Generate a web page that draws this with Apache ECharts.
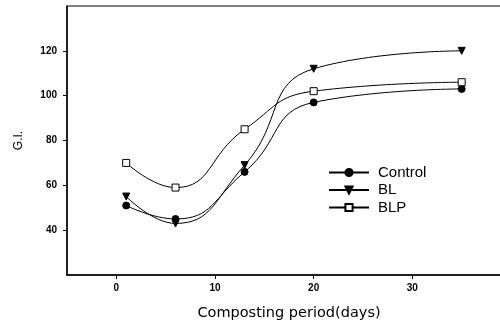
<!DOCTYPE html>
<html><head><meta charset="utf-8">
<script src="https://cdn.jsdelivr.net/npm/echarts@6/dist/echarts.min.js"></script>
<style>html,body{margin:0;padding:0;background:#fff}#c{width:500px;height:324px}</style>
</head><body><div id="c"></div>
<script>
const days = [1, 6, 13, 20, 35];
const controlGI = [51, 45, 66, 97, 103];
const blGI = [55, 43, 69, 112, 120];
const blpGI = [70, 59, 85, 102, 106];
const xTicks = [0, 10, 20, 30];
const yTicks = [40, 60, 80, 100, 120];

const pair = (xs, ys) => xs.map((x, i) => [x, ys[i]]);
const font = 'Liberation Sans, Arial, sans-serif';
const chart = echarts.init(document.getElementById('c'), null, {renderer: 'canvas'});
const mk = (name, data, symbol, fill) => ({
  name, type: 'line', data: pair(days, data), smooth: 0.5,
  symbol, symbolSize: 7, showSymbol: true,
  lineStyle: {color: '#000', width: 1},
  itemStyle: {color: fill, borderColor: '#000', borderWidth: 1},
  emphasis: {disabled: true}
});
chart.setOption({
  animation: false,
  grid: {left: 67, right: -11, top: 6, bottom: 49, show: true, borderColor: '#000', borderWidth: 1,
         outerBoundsMode: 'none', containLabel: false},
  legend: {
    orient: 'vertical', left: 328, top: 165, padding: 0, itemWidth: 40, itemHeight: 9, itemGap: 2.5,
    textStyle: {fontFamily: font, fontSize: 15, color: '#000', padding: [0, 0, 0, 4]},
    data: ['Control', 'BL', 'BLP']
  },
  xAxis: {
    type: 'value', min: -5, max: 40,
    name: 'Composting period(days)', nameLocation: 'middle', nameGap: 31,
    nameTextStyle: {fontFamily: 'DejaVu Sans, sans-serif', fontSize: 14.5, color: '#000'},
    axisLine: {show: true, onZero: false, lineStyle: {color: '#000', width: 1.5}},
    axisTick: {show: true, length: 4, customValues: xTicks, lineStyle: {color: '#000'}},
    axisLabel: {customValues: xTicks, margin: 8, fontFamily: font, fontSize: 10, color: '#000', fontWeight: 'bold'},
    splitLine: {show: false}
  },
  yAxis: {
    type: 'value', min: 20, max: 140,
    name: 'G.I.', nameLocation: 'middle', nameGap: 42, nameRotate: 90,
    nameTextStyle: {fontFamily: font, fontSize: 12, color: '#000'},
    axisLine: {show: true, onZero: false, lineStyle: {color: '#000', width: 1.5}},
    axisTick: {show: true, length: 4, customValues: yTicks, lineStyle: {color: '#000'}},
    axisLabel: {customValues: yTicks, margin: 10, fontFamily: font, fontSize: 10, color: '#000', fontWeight: 'bold'},
    splitLine: {show: false}
  },
  series: [
    mk('Control', controlGI, 'circle', '#000'),
    mk('BL', blGI, 'path://M0,0 L10,0 L5,9 Z', '#000'),
    mk('BLP', blpGI, 'rect', '#fff')
  ]
});
</script></body></html>
